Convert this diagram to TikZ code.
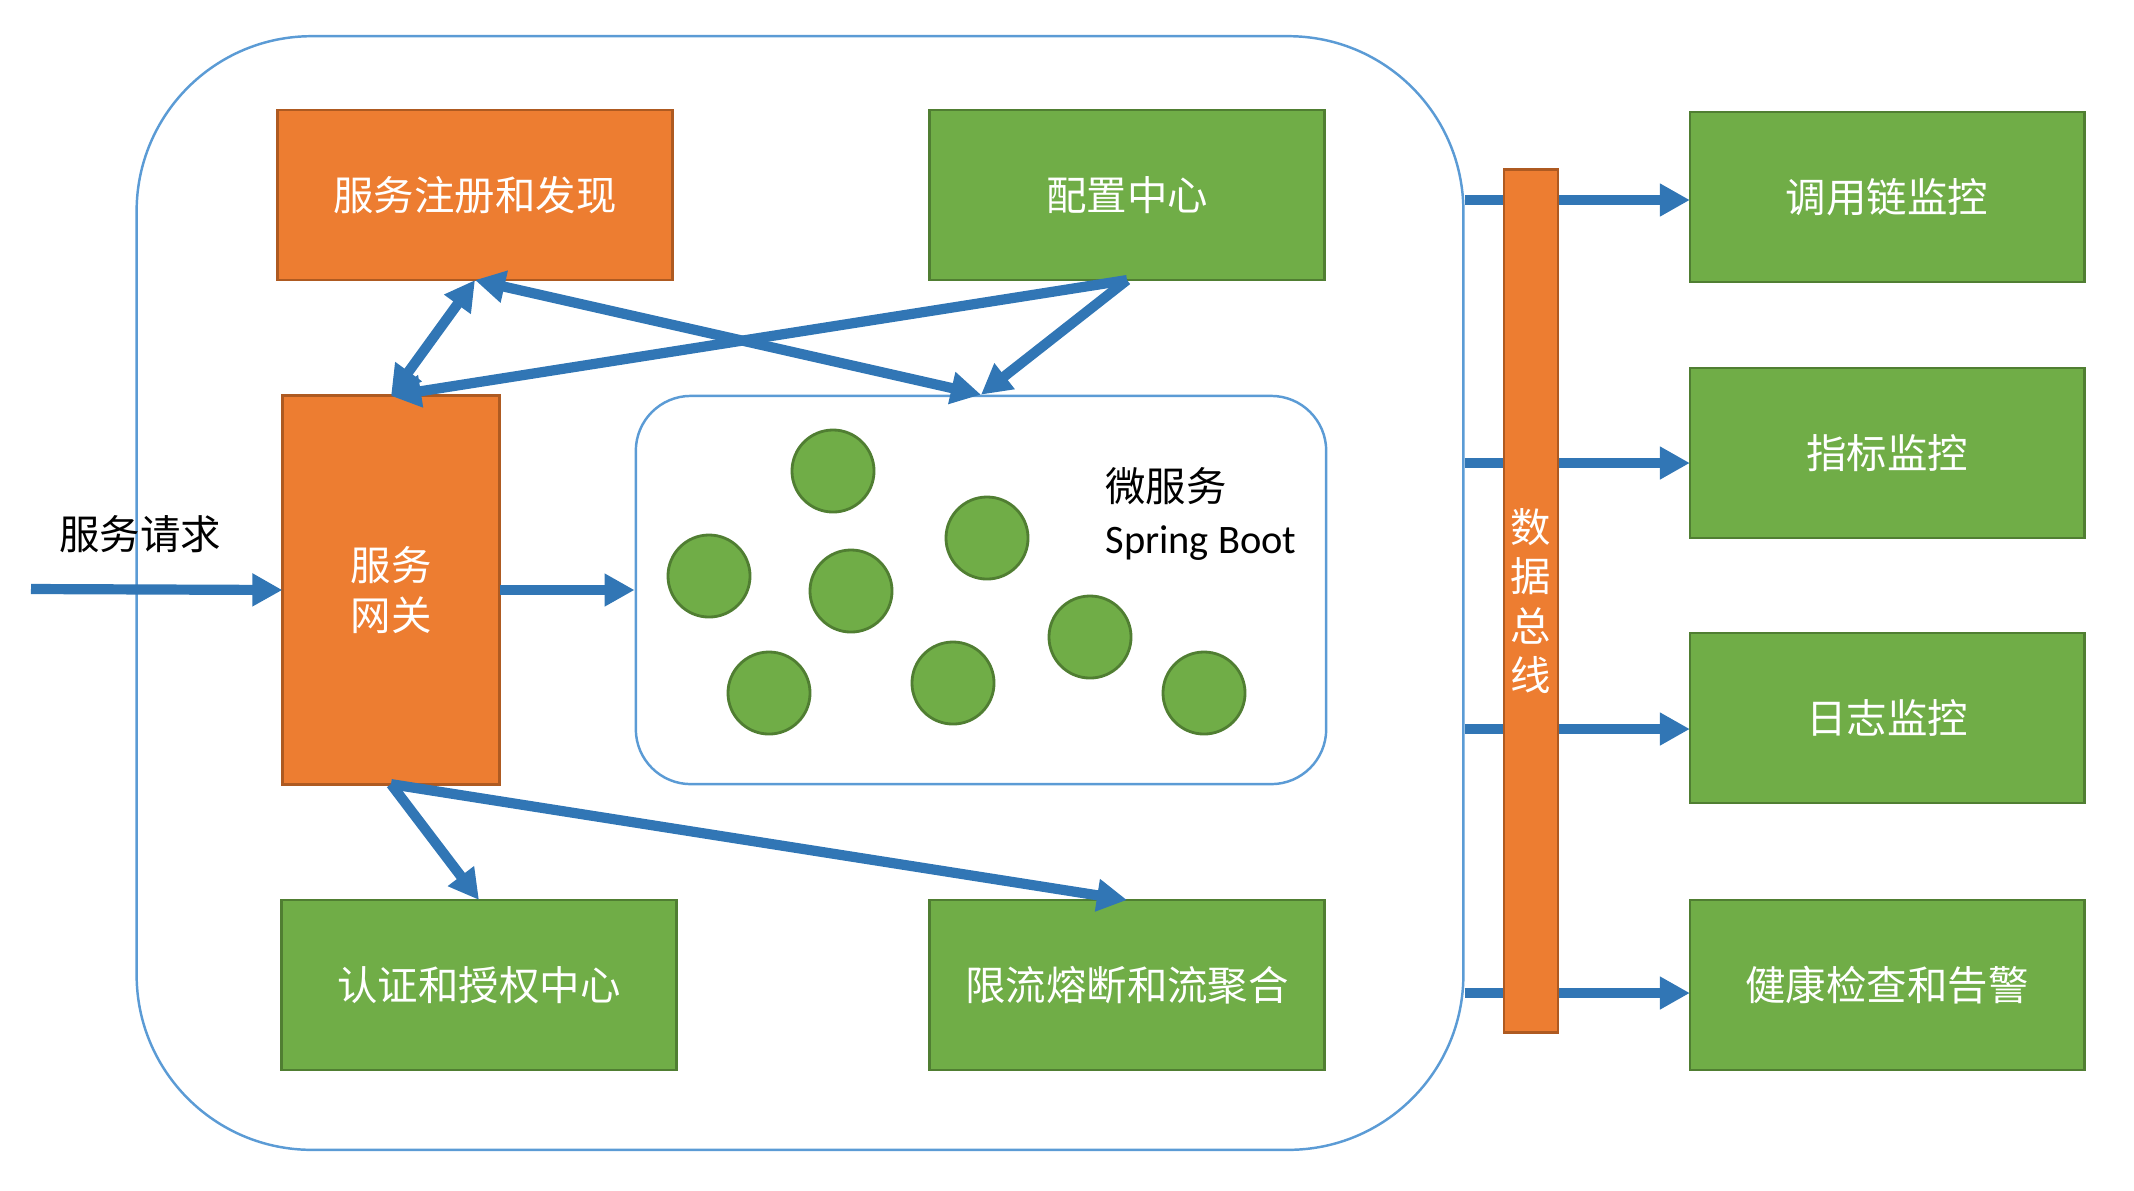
\documentclass[tikz,border=0pt]{standalone}
\usepackage{fontspec}
\setmainfont{Carlito}
\newfontfamily\cjk{Noto Sans CJK SC}
\usetikzlibrary{arrows.meta}

\definecolor{boxorange}{HTML}{ED7D31}
\definecolor{edgeorange}{HTML}{AE5A21}
\definecolor{boxgreen}{HTML}{70AD47}
\definecolor{edgegreen}{HTML}{507E32}
\definecolor{arrowblue}{HTML}{3176B5}
\definecolor{frameblue}{HTML}{5B9BD5}

\tikzset{
  >={Triangle[length=0.3cm,width=0.31cm]},
  boxtext/.style={font=\cjk\fontsize{11.5}{14}\selectfont, text=white, inner sep=0pt, outer sep=0pt},
  orangebox/.style={boxtext, draw=edgeorange, fill=boxorange, line width=0.8pt},
  greenbox/.style={boxtext, draw=edgegreen, fill=boxgreen, line width=0.8pt,
    minimum width=3.94cm, minimum height=1.7cm},
  flow/.style={draw=arrowblue, line width=2.9pt, ->},
  flowboth/.style={draw=arrowblue, line width=2.9pt, <->},
  svcdot/.style={circle, draw=edgegreen, fill=boxgreen, line width=0.8pt, minimum size=0.82cm}
}

\begin{document}
\begin{tikzpicture}[x=0.01cm, y=-0.01cm]
    \useasboundingbox (0,0) rectangle (2134,1190);

    % Rahmen
    \node[draw=frameblue, line width=0.7pt, rounded corners=1.75cm, minimum width=13.26cm, minimum height=11.13cm] (outer) at (800,593) {};

    % obere Boxen
    \node[orangebox, minimum width=3.94cm, minimum height=1.7cm] (reg) at (475,195) {服务注册和发现};
    \node[greenbox] (conf) at (1127,195) {配置中心};

    % Gateway und Microservices
    \node[orangebox, minimum width=2.17cm, minimum height=3.88cm, align=center] (gw) at (391,590) {服务\\网关};
    \node[draw=frameblue, line width=0.7pt, rounded corners=0.55cm, minimum width=6.9cm, minimum height=3.88cm] (micro) at (981,590) {};
    \foreach \cx/\cy [count=\i] in {833/471, 987/538, 709/576, 851/591, 1090/637, 769/693, 953/683, 1204/693}
        \node[svcdot] (ms\i) at (\cx,\cy) {};
    \node[align=left, anchor=west, font=\fontsize{11.5}{14.7}\selectfont] (mslabel) at (1093,514) {{\cjk 微服务}\\Spring Boot};

    % untere Boxen
    \node[greenbox] (auth) at (479,985) {认证和授权中心};
    \node[greenbox] (limit) at (1127,985) {限流熔断和流聚合};

    % Monitoring rechts
    \node[greenbox] (trace) at (1887,197) {调用链监控};
    \node[greenbox] (metric) at (1887,453) {指标监控};
    \node[greenbox] (logmon) at (1887,718) {日志监控};
    \node[greenbox] (health) at (1887,985) {健康检查和告警};

    % Anfrage
    \coordinate (req) at (31,589);
    \node[font=\cjk\fontsize{11.5}{14}\selectfont] (reqlabel) at (140,534) {服务请求};
    \draw[flow] (req) -- (gw.west);
    \draw[flow] (gw.east) -- (micro.west);

    % Verbindungen
    \draw[flowboth] (gw.north) -- (reg.south);
    \draw[flowboth] (reg.south) -- (micro.north);
    \draw[flow] (conf.south) -- (gw.north);
    \draw[flow] (conf.south) -- (micro.north);
    \draw[flow] (gw.south) -- (auth.north);
    \draw[flow] (gw.south) -- (limit.north);

    % Datenbus
    \foreach \m/\dy in {trace/3, metric/10, logmon/11, health/8} {
        \coordinate (in-\m) at ([yshift=-\dy*0.01cm]\m.west);
        \draw[flow] (outer.east |- in-\m) -- (in-\m);
    }
    \node[orangebox, minimum width=0.54cm, minimum height=8.62cm, align=center, font=\cjk\fontsize{11.5}{14}\selectfont] (bus) at (1531,601) {数\\据\\总\\线};
\end{tikzpicture}
\end{document}
